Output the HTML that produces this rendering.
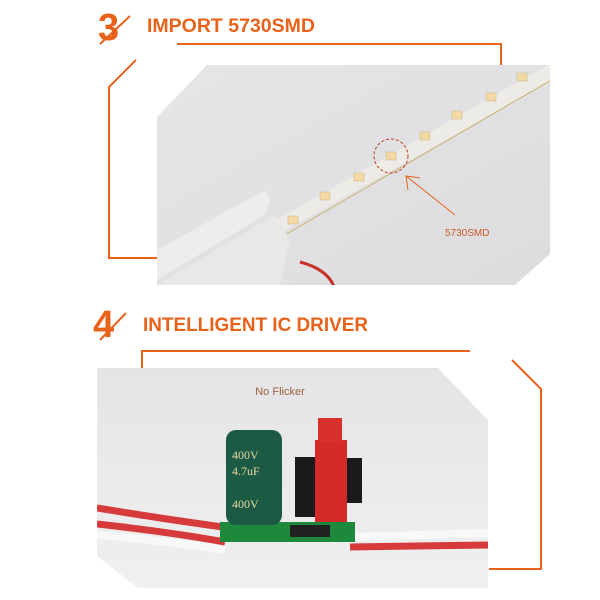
<!DOCTYPE html>
<html><head><meta charset="utf-8"><style>
html,body{margin:0;padding:0;background:#fff;width:600px;height:600px;overflow:hidden}
svg{display:block}
</style></head><body>
<svg width="600" height="600" viewBox="0 0 600 600" xmlns="http://www.w3.org/2000/svg">
<defs>
<linearGradient id="bg1" x1="0" y1="0" x2="1" y2="1"><stop offset="0" stop-color="#e6e6e8"/><stop offset="1" stop-color="#dcdcde"/></linearGradient>
<linearGradient id="bg2" x1="0" y1="0" x2="0" y2="1"><stop offset="0" stop-color="#e4e4e6"/><stop offset="1" stop-color="#f0f0f1"/></linearGradient>
<clipPath id="c1"><polygon points="207,65 550,65 550,254 515,285 157,285 157,117"/></clipPath>
<clipPath id="c2"><polygon points="97,368 438,368 488,420 488,588 138,588 97,556"/></clipPath>
</defs>
<!-- Section 3 -->
<text x="98" y="40" font-family="Liberation Sans,sans-serif" font-weight="bold" font-size="38" fill="#e8621a">3</text>
<line x1="100" y1="44" x2="130" y2="16" stroke="#e8621a" stroke-width="2"/>
<text x="147" y="32" font-family="Liberation Sans,sans-serif" font-weight="bold" font-size="19" fill="#e8621a" textLength="168" lengthAdjust="spacingAndGlyphs">IMPORT  5730SMD</text>
<polyline points="177,44 501,44 501,66" fill="none" stroke="#e8621a" stroke-width="2"/>
<polyline points="136,60 109,87 109,258 158,258" fill="none" stroke="#e8621a" stroke-width="2"/>
<g clip-path="url(#c1)">
<rect x="150" y="60" width="410" height="230" fill="url(#bg1)"/>
<polygon points="150,292 560,58 560,76 175,292" fill="#ecebe6"/>
<line x1="190" y1="290" x2="560" y2="75" stroke="#c8b070" stroke-width="1"/>
<g fill="#f3d9a3" stroke="#c9b48a" stroke-width="0.5">
<rect x="186" y="274" width="10" height="8"/><rect x="220" y="255" width="10" height="8"/>
<rect x="254" y="237" width="10" height="8"/><rect x="288" y="216" width="10" height="8"/>
<rect x="320" y="192" width="10" height="8"/><rect x="354" y="173" width="10" height="8"/>
<rect x="386" y="152" width="10" height="8"/><rect x="420" y="132" width="10" height="8"/>
<rect x="452" y="111" width="10" height="8"/><rect x="486" y="93" width="10" height="8"/>
<rect x="517" y="73" width="10" height="8"/>
</g>
<polygon points="157,250 265,190 270,200 265,215 157,280" fill="#ededeb"/>
<polygon points="157,285 275,215 290,240 280,285" fill="#e8e8e6"/>
<path d="M300,262 Q330,270 335,290" fill="none" stroke="#c8322a" stroke-width="3"/>
</g>
<circle cx="391" cy="156" r="17" fill="none" stroke="#c0392b" stroke-width="1" stroke-dasharray="3,2"/>
<line x1="455" y1="215" x2="406" y2="176" stroke="#e8621a" stroke-width="1"/>
<polyline points="408,190 406,176 420,178" fill="none" stroke="#e8621a" stroke-width="1"/>
<text x="445" y="236" font-family="Liberation Sans,sans-serif" font-size="10" fill="#c85a2a">5730SMD</text>
<!-- Section 4 -->
<text x="93" y="337" font-family="Liberation Sans,sans-serif" font-weight="bold" font-size="38" fill="#e8621a">4</text>
<line x1="100" y1="340" x2="126" y2="313" stroke="#e8621a" stroke-width="2"/>
<text x="143" y="331" font-family="Liberation Sans,sans-serif" font-weight="bold" font-size="19" fill="#e8621a" textLength="225" lengthAdjust="spacingAndGlyphs">INTELLIGENT IC DRIVER</text>
<polyline points="142,370 142,351 470,351" fill="none" stroke="#e8621a" stroke-width="2"/>
<polyline points="512,360 541,389 541,569 489,569" fill="none" stroke="#e8621a" stroke-width="2"/>
<g clip-path="url(#c2)">
<rect x="90" y="360" width="400" height="230" fill="url(#bg2)"/>
<path d="M97,508 Q170,520 230,528" stroke="#d63a3a" stroke-width="7" fill="none"/>
<path d="M97,535 Q160,540 225,550" stroke="#f8f8f8" stroke-width="8" fill="none"/>
<path d="M97,524 Q170,532 225,542" stroke="#d63a3a" stroke-width="7" fill="none"/>
<path d="M350,537 L488,533" stroke="#f8f8f8" stroke-width="8" fill="none"/>
<path d="M350,547 L488,545" stroke="#d63a3a" stroke-width="7" fill="none"/>
<rect x="220" y="522" width="135" height="20" fill="#1c8a3a"/>
<rect x="226" y="430" width="56" height="95" rx="10" fill="#1d5a45"/>
<text x="232" y="459" font-family="Liberation Serif,serif" font-size="12" fill="#e6d8a0">400V</text>
<text x="232" y="475" font-family="Liberation Serif,serif" font-size="12" fill="#e6d8a0">4.7uF</text>
<text x="232" y="508" font-family="Liberation Serif,serif" font-size="12" fill="#e6d8a0">400V</text>
<rect x="295" y="457" width="20" height="60" fill="#1a1a1a"/>
<rect x="347" y="458" width="15" height="45" fill="#1a1a1a"/>
<rect x="315" y="440" width="32" height="82" fill="#d42a2a"/>
<rect x="318" y="418" width="24" height="24" fill="#d8302a"/>
<rect x="290" y="525" width="40" height="12" fill="#222"/>
</g>
<text x="280" y="395" text-anchor="middle" font-family="Liberation Sans,sans-serif" font-size="11" fill="#9a6040">No Flicker</text>
</svg>
</body></html>
